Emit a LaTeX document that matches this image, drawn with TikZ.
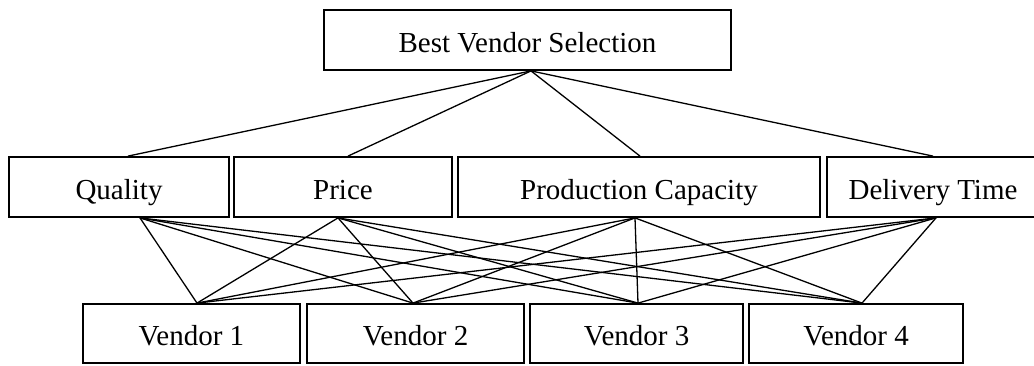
\documentclass[tikz,border=0pt]{standalone}
\usepackage{fontspec}
\setmainfont{Liberation Serif}

\begin{document}
\begin{tikzpicture}[x=1pt,y=-1pt]
\tikzset{ box/.style={draw, line width=1.8pt, minimum height=60pt, inner sep=0pt, text height=24pt, text depth=0pt, font=\fontsize{29}{33}\selectfont},
 link/.style={line width=1.3pt}}
\useasboundingbox (0,0) rectangle (1034,365);
\clip (0,0) rectangle (1034,365);

\node[box, minimum width=407pt] (best) at (527.5,40) {Best Vendor Selection};

\node[box, minimum width=220pt] (q) at (119,187) {Quality};
\node[box, minimum width=218pt] (p) at (343,187) {Price};
\node[box, minimum width=362pt] (pc) at (639,187) {Production Capacity};
\node[box, minimum width=212pt] (dt) at (933,187) {Delivery Time};

\node[box, minimum width=217pt, minimum height=59pt] (v1) at (191.5,333.5) {Vendor 1};
\node[box, minimum width=217pt, minimum height=59pt] (v2) at (415.5,333.5) {Vendor 2};
\node[box, minimum width=213pt, minimum height=59pt] (v3) at (636.5,333.5) {Vendor 3};
\node[box, minimum width=214pt, minimum height=59pt] (v4) at (856,333.5) {Vendor 4};

% goal to criteria
\draw[link] ([xshift=3.5]best.south) -- ([xshift=9]q.north);
\draw[link] ([xshift=3.5]best.south) -- ([xshift=5]p.north);
\draw[link] ([xshift=3.5]best.south) -- ([xshift=1]pc.north);
\draw[link] ([xshift=3.5]best.south) -- (dt.north);

% criteria to vendors
\draw[link] ([xshift=21]q.south) -- ([xshift=5.5]v1.north);
\draw[link] ([xshift=21]q.south) -- ([xshift=-2.5]v2.north);
\draw[link] ([xshift=21]q.south) -- ([xshift=1.5]v3.north);
\draw[link] ([xshift=21]q.south) -- ([xshift=6]v4.north);
\draw[link] ([xshift=-5]p.south) -- ([xshift=5.5]v1.north);
\draw[link] ([xshift=-5]p.south) -- ([xshift=-2.5]v2.north);
\draw[link] ([xshift=-5]p.south) -- ([xshift=1.5]v3.north);
\draw[link] ([xshift=-5]p.south) -- ([xshift=6]v4.north);
\draw[link] ([xshift=-4]pc.south) -- ([xshift=5.5]v1.north);
\draw[link] ([xshift=-4]pc.south) -- ([xshift=-2.5]v2.north);
\draw[link] ([xshift=-4]pc.south) -- ([xshift=1.5]v3.north);
\draw[link] ([xshift=-4]pc.south) -- ([xshift=6]v4.north);
\draw[link] ([xshift=3]dt.south) -- ([xshift=5.5]v1.north);
\draw[link] ([xshift=3]dt.south) -- ([xshift=-2.5]v2.north);
\draw[link] ([xshift=3]dt.south) -- ([xshift=1.5]v3.north);
\draw[link] ([xshift=3]dt.south) -- ([xshift=6]v4.north);
\end{tikzpicture}
\end{document}
